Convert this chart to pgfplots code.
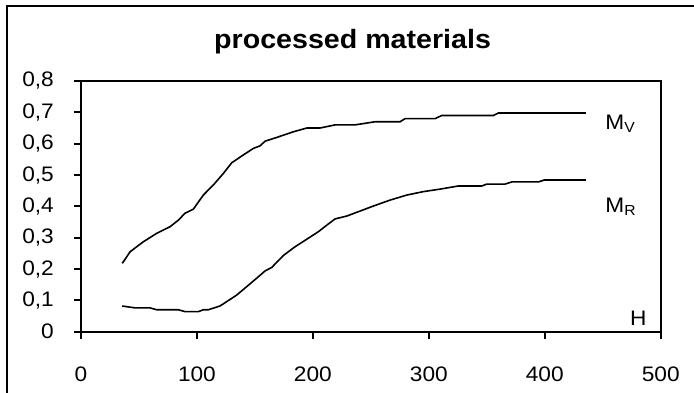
\documentclass[border=0pt]{standalone}
\usepackage{fontspec}
\setmainfont{Liberation Sans}[FakeStretch=1.08]
\usepackage{pgfplots}
\pgfplotsset{compat=1.18}
\begin{document}
\begin{tikzpicture}
\begin{axis}[
  at={(0,0)}, anchor=south west,
  scale only axis, width=579.7bp, height=250.7bp,
  xmin=0, xmax=500, ymin=0, ymax=0.8,
  xtick={0,100,200,300,400,500},
  ytick={0,0.1,0.2,0.3,0.4,0.5,0.6,0.7,0.8},
  tick align=outside, xtick pos=left, ytick pos=left,
  major tick length=7bp,
  axis line style={line width=2bp},
  every tick/.style={black, line width=2bp},
  tick label style={font=\fontsize{21bp}{25bp}\selectfont, inner sep=0pt},
  xticklabel style={anchor=north, yshift=-28bp},
  yticklabel style={anchor=east, xshift=-20bp},
  /pgf/number format/assume math mode=true,
  /pgf/number format/use comma,
  /pgf/number format/fixed,
  /pgf/number format/1000 sep={},
  clip=false,
]
\addplot[black, line width=1.6bp] coordinates {
(35.6,0.218) (42.3,0.255) (53.8,0.287) (65.3,0.314) (76.8,0.335) (84.0,0.356)
(89.7,0.378) (96.9,0.391) (105.5,0.436) (114.1,0.468) (122.8,0.505) (130.0,0.539)
(140.0,0.564) (148.7,0.585) (154.4,0.593) (158.8,0.608) (168.9,0.620) (183.2,0.638)
(194.8,0.650) (206.2,0.650) (219.2,0.660) (236.4,0.660) (253.7,0.670) (275.2,0.670)
(279.6,0.680) (305.4,0.680) (311.2,0.690) (355.7,0.690) (360.1,0.698) (435.5,0.698)
};
\addplot[black, line width=1.6bp] coordinates {
(35.6,0.082) (46.6,0.076) (59.5,0.076) (65.3,0.070) (84.0,0.070) (89.7,0.064)
(101.2,0.064) (105.5,0.070) (109.8,0.070) (119.9,0.082) (125.7,0.096) (134.3,0.117)
(143.0,0.144) (151.6,0.171) (158.8,0.194) (164.5,0.205) (174.5,0.243) (184.6,0.271)
(194.7,0.295) (204.7,0.319) (212.0,0.340) (219.2,0.360) (229.2,0.369) (240.7,0.385)
(252.2,0.401) (266.6,0.420) (281.0,0.436) (295.3,0.447) (309.7,0.455) (325.5,0.465)
(345.7,0.465) (350.0,0.471) (365.8,0.471) (371.6,0.478) (394.6,0.478) (399.5,0.484)
(435.5,0.484)
};
\node[anchor=base west, inner sep=0pt, font=\fontsize{21bp}{25bp}\selectfont] at (axis cs:452.1,0.644) {M\raisebox{-3bp}{\fontsize{14.5bp}{15bp}\selectfont V}};
\node[anchor=base west, inner sep=0pt, font=\fontsize{21bp}{25bp}\selectfont] at (axis cs:452.1,0.379) {M\raisebox{-3bp}{\fontsize{14.5bp}{15bp}\selectfont R}};
\node[anchor=base east, inner sep=0pt, font=\fontsize{21bp}{25bp}\selectfont] at (axis cs:488,0.021) {H};
\end{axis}
\pgfresetboundingbox
\useasboundingbox (-81bp,-61.3bp) rectangle (613bp,331.7bp);
\draw[line width=2bp] (-74.3bp,-90bp) -- (-74.3bp,326bp) -- (660bp,326bp);
\node[anchor=base, inner sep=0pt, font=\fontsize{26.5bp}{30bp}\selectfont\bfseries] at (271.6bp,283.4bp) {processed materials};
\end{tikzpicture}
\end{document}
